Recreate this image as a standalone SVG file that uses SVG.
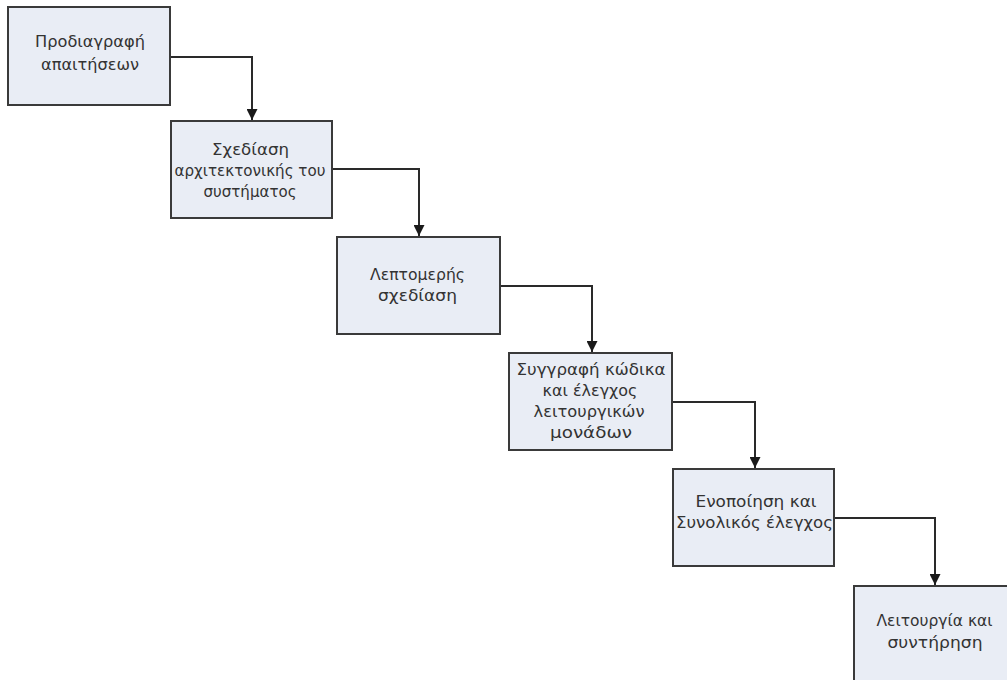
<svg xmlns="http://www.w3.org/2000/svg" width="1007" height="680" viewBox="0 0 1007 680">
  <style>
    .box { fill: #e9edf5; stroke: #3a3a3a; stroke-width: 2; }
    .lbl { font-family: "DejaVu Sans", Verdana, sans-serif; font-size: 15.5px; fill: #333333; text-anchor: middle; }
    .conn { fill: none; stroke: #2a2a2a; stroke-width: 2; }
  </style>
  <defs>
    <marker id="arrow" viewBox="0 0 10 10" refX="10" refY="5" markerWidth="5.5" markerHeight="5.5" orient="auto" markerUnits="strokeWidth">
      <path d="M0,0 L10,5 L0,10 Z" fill="#1a1a1a"/>
    </marker>
  </defs>
  <rect width="1007" height="680" fill="#ffffff"/>

  <g id="connectors">
    <path class="conn" d="M170,57 H252 V120" marker-end="url(#arrow)"/>
    <path class="conn" d="M332,169 H419 V236" marker-end="url(#arrow)"/>
    <path class="conn" d="M500,286 H592 V352" marker-end="url(#arrow)"/>
    <path class="conn" d="M672,402 H755 V468" marker-end="url(#arrow)"/>
    <path class="conn" d="M834,518 H935 V585" marker-end="url(#arrow)"/>
  </g>

  <g id="node-requirements">
    <rect class="box" x="8" y="7" width="162" height="98"/>
    <text class="lbl" x="90" y="47" textLength="110" lengthAdjust="spacingAndGlyphs">Προδιαγραφή</text>
    <text class="lbl" x="90" y="70" textLength="98" lengthAdjust="spacingAndGlyphs">απαιτήσεων</text>
  </g>

  <g id="node-architecture">
    <rect class="box" x="171" y="121" width="161" height="97"/>
    <text class="lbl" x="250.5" y="155" textLength="77" lengthAdjust="spacingAndGlyphs">Σχεδίαση</text>
    <text class="lbl" x="250" y="176" textLength="151" lengthAdjust="spacingAndGlyphs">αρχιτεκτονικής του</text>
    <text class="lbl" x="250" y="197" textLength="93" lengthAdjust="spacingAndGlyphs">συστήματος</text>
  </g>

  <g id="node-detailed-design">
    <rect class="box" x="337" y="237" width="163" height="97"/>
    <text class="lbl" x="417.5" y="280" textLength="95" lengthAdjust="spacingAndGlyphs">Λεπτομερής</text>
    <text class="lbl" x="417.5" y="301" textLength="79" lengthAdjust="spacingAndGlyphs">σχεδίαση</text>
  </g>

  <g id="node-coding">
    <rect class="box" x="509" y="353" width="163" height="97"/>
    <text class="lbl" x="591" y="375" textLength="149" lengthAdjust="spacingAndGlyphs">Συγγραφή κώδικα</text>
    <text class="lbl" x="590" y="396" textLength="95" lengthAdjust="spacingAndGlyphs">και έλεγχος</text>
    <text class="lbl" x="589" y="417" textLength="111" lengthAdjust="spacingAndGlyphs">λειτουργικών</text>
    <text class="lbl" x="591" y="438" textLength="82" lengthAdjust="spacingAndGlyphs">μονάδων</text>
  </g>

  <g id="node-integration">
    <rect class="box" x="673" y="469" width="161" height="97"/>
    <text class="lbl" x="756" y="507" textLength="121" lengthAdjust="spacingAndGlyphs">Ενοποίηση και</text>
    <text class="lbl" x="754.5" y="528" textLength="157" lengthAdjust="spacingAndGlyphs">Συνολικός έλεγχος</text>
  </g>

  <g id="node-operation">
    <rect class="box" x="854" y="586" width="162" height="98"/>
    <text class="lbl" x="934.5" y="626" textLength="116" lengthAdjust="spacingAndGlyphs">Λειτουργία και</text>
    <text class="lbl" x="935" y="648" textLength="95" lengthAdjust="spacingAndGlyphs">συντήρηση</text>
  </g>
</svg>
